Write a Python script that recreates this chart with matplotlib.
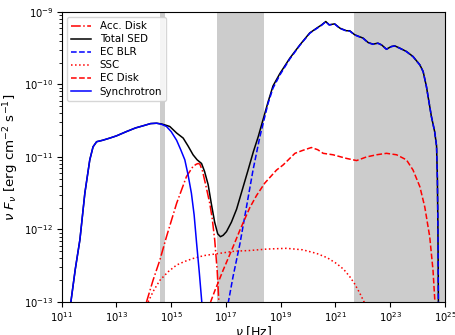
import numpy as np
import matplotlib
matplotlib.use("Agg")
import matplotlib.pyplot as plt
from matplotlib.ticker import NullLocator

# log10(nu [Hz]) and log10(nuFnu [erg cm^-2 s^-1])
syn_lognu = [11.34, 11.5, 11.67, 11.85, 12.03, 12.15, 12.28, 12.5, 12.76, 13.0, 13.37, 13.7, 13.98,
             14.25, 14.47, 14.65, 14.83, 15.0, 15.2, 15.35, 15.5, 15.62, 15.74, 15.84, 15.93, 16.03, 16.13]
syn_logf = [-13.0, -12.55, -12.14, -11.5, -11.04, -10.86, -10.79, -10.77, -10.74, -10.71, -10.65, -10.6, -10.57,
            -10.54, -10.535, -10.55, -10.58, -10.65, -10.77, -10.9, -11.04, -11.25, -11.5, -11.8, -12.19, -12.6, -13.05]

disk_lognu = [14.1, 14.34, 14.59, 14.83, 15.2, 15.56, 15.8, 15.92, 15.99, 16.05, 16.15, 16.3, 16.41, 16.5,
              16.59, 16.68, 16.75]
disk_logf = [-13.0, -12.7, -12.42, -12.1, -11.64, -11.27, -11.13, -11.1, -11.09, -11.1, -11.2, -11.45, -11.64, -11.85,
             -12.14, -12.56, -13.05]

ssc_lognu = [14.16, 14.35, 14.59, 14.9, 15.2, 15.5, 15.8, 16.2, 16.75, 17.3, 17.87, 18.5, 19.21, 19.8, 20.31,
             20.7, 21.04, 21.3, 21.52, 21.7, 21.89, 22.07]
ssc_logf = [-13.0, -12.85, -12.7, -12.58, -12.49, -12.44, -12.4, -12.36, -12.33, -12.3, -12.29, -12.27, -12.26, -12.28, -12.33,
            -12.39, -12.47, -12.55, -12.65, -12.75, -12.88, -13.02]

ecd_lognu = [16.44, 16.6, 16.9, 17.26, 17.51, 17.87, 18.12, 18.42, 18.85, 19.09, 19.52, 19.8, 20.12, 20.35,
             20.55, 20.91, 21.4, 21.77, 22.13, 22.5, 22.86, 23.23, 23.59, 23.83, 24.08, 24.26, 24.44, 24.56, 24.63]
ecd_logf = [-13.0, -12.84, -12.56, -12.24, -12.01, -11.7, -11.53, -11.36, -11.18, -11.11, -10.95, -10.91, -10.87, -10.9,
            -10.95, -10.97, -11.02, -11.05, -11.0, -10.97, -10.95, -10.97, -11.04, -11.18, -11.41, -11.69, -12.1, -12.56, -13.0]

blr_lognu = [17.08, 17.26, 17.51, 17.75, 17.99, 18.24, 18.54, 18.72, 18.97, 19.33, 19.7, 20.06, 20.31, 20.49,
             20.646, 20.77, 20.97, 21.16, 21.4, 21.52, 21.7, 22.01, 22.19, 22.37, 22.55, 22.68, 22.86, 23.04,
             23.16, 23.35, 23.59, 23.83, 24.08, 24.2, 24.32, 24.5, 24.62, 24.69, 24.72, 24.74, 24.76]
blr_logf = [-13.02, -12.65, -12.2, -11.69, -11.18, -10.72, -10.26, -10.05, -9.87, -9.65, -9.46, -9.295, -9.23, -9.185,
            -9.135, -9.18, -9.168, -9.227, -9.264, -9.264, -9.318, -9.365, -9.425, -9.447, -9.433, -9.456, -9.516, -9.479,
            -9.47, -9.502, -9.548, -9.617, -9.732, -9.824, -10.03, -10.44, -10.65, -10.85, -11.3, -12.0, -13.2]

tot_lognu = [11.34, 11.5, 11.67, 11.85, 12.03, 12.15, 12.28, 12.5, 12.76, 13.0, 13.37, 13.7, 13.98, 14.25, 14.47,
             14.65, 14.83, 14.95, 15.2, 15.44, 15.62, 15.8, 15.95, 16.11, 16.22, 16.35, 16.47, 16.59, 16.7, 16.8,
             16.9, 17.02, 17.2, 17.39, 17.6, 17.81, 18.0, 18.18, 18.54, 18.72, 18.97, 19.33, 19.7, 20.06, 20.31,
             20.49, 20.646, 20.77, 20.97, 21.16, 21.4, 21.52, 21.7, 22.01, 22.19, 22.37, 22.55, 22.68, 22.86, 23.04,
             23.16, 23.35, 23.59, 23.83, 24.08, 24.2, 24.32, 24.5, 24.62, 24.69, 24.72, 24.74, 24.76]
tot_logf = [-13.0, -12.55, -12.14, -11.5, -11.04, -10.86, -10.79, -10.77, -10.74, -10.71, -10.65, -10.6, -10.57, -10.54, -10.535,
            -10.545, -10.565, -10.58, -10.67, -10.74, -10.85, -10.97, -11.04, -11.09, -11.2, -11.38, -11.65, -11.9, -12.06, -12.1,
            -12.08, -12.03, -11.9, -11.72, -11.45, -11.18, -10.93, -10.72, -10.24, -10.02, -9.85, -9.64, -9.455, -9.29, -9.225,
            -9.18, -9.133, -9.178, -9.165, -9.224, -9.26, -9.26, -9.315, -9.362, -9.422, -9.445, -9.431, -9.454, -9.514, -9.477,
            -9.468, -9.5, -9.546, -9.615, -9.73, -9.822, -10.03, -10.44, -10.65, -10.85, -11.3, -12.0, -13.2]

# observed bands (log10 nu)
bands = [(14.59, 14.76), (16.66, 18.39), (21.67, 26.0)]

fig = plt.figure(figsize=(4.56, 3.35), dpi=100)
ax = fig.add_axes([0.135, 0.0985, 0.841, 0.866])

for lo, hi in bands:
    ax.axvspan(10**lo, 10**hi, color="0.8", lw=0)

def pw(a):
    return 10 ** np.array(a)

ax.plot(pw(disk_lognu), pw(disk_logf), "r-.", lw=1.1, label="Acc. Disk")
ax.plot(pw(tot_lognu), pw(tot_logf), "k-", lw=1.1, label="Total SED")
ax.plot(pw(blr_lognu), pw(blr_logf), "b--", lw=1.1, label="EC BLR")
ax.plot(pw(ssc_lognu), pw(ssc_logf), "r:", lw=1.1, label="SSC")
ax.plot(pw(ecd_lognu), pw(ecd_logf), "r--", lw=1.1, label="EC Disk")
ax.plot(pw(syn_lognu), pw(syn_logf), "b-", lw=1.1, label="Synchrotron")

ax.set_xscale("log")
ax.set_yscale("log")
ax.set_xlim(1e11, 1e25)
ax.set_ylim(1e-13, 1e-9)
ax.set_xticks([10.0**k for k in range(11, 26, 2)])
ax.xaxis.set_minor_locator(NullLocator())
ax.tick_params(which="major", length=3.5, labelsize=7.2, pad=2.5)
ax.tick_params(which="minor", length=2)

ax.set_xlabel(r"$\nu$ [Hz]", fontsize=9.0, labelpad=0)
ax.set_ylabel(r"$\nu\ F_\nu$ [erg cm$^{-2}$ s$^{-1}$]", fontsize=9.6, labelpad=2)
ax.legend(loc="upper left", fontsize=7.4, labelspacing=0.3)

plt.savefig("out.png")
plt.close()
